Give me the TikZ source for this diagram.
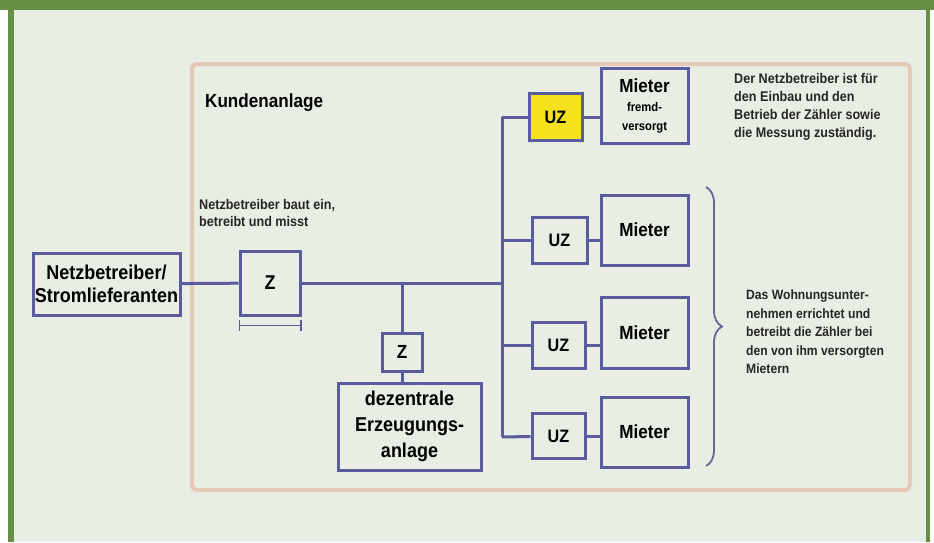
\documentclass[tikz,border=0pt]{standalone}
\usepackage{fontspec}
\setmainfont{Liberation Sans}[FakeStretch=0.9]
\usetikzlibrary{decorations.pathreplacing}
\definecolor{rahmen}{HTML}{668F45}
\definecolor{papier}{HTML}{E8EEE3}
\definecolor{linie}{HTML}{5A5C9E}
\definecolor{rose}{HTML}{E6C8B8}
\definecolor{gelb}{HTML}{F5E21C}
\newcommand{\fs}[2]{\fontsize{#1}{#2}\selectfont}

\begin{document}
\begin{tikzpicture}[x=1pt, y=-1pt,
    kasten/.style={draw=linie, line width=3pt, fill=papier, inner sep=0pt, align=center, font=\bfseries},
    leitung/.style={draw=linie, line width=3pt},
    notiz/.style={align=left, inner sep=0pt, font=\bfseries\fs{14}{18}, text=black!85}]
  % Rahmen und Hintergrund
  \fill[white] (0, 0) rectangle (934, 542);
  \fill[rahmen] (0, 0) rectangle (934, 10);
  \fill[rahmen] (8, 10) rectangle (14, 542);
  \fill[rahmen] (926, 10) rectangle (930, 542);
  \fill[papier] (14, 10) rectangle (926, 542);
  \useasboundingbox (0, 0) rectangle (934, 542);
  \draw[rose, line width=4pt, rounded corners=5pt] (192, 64) rectangle (910, 490);
  \node[anchor=west, inner sep=0pt, font=\bfseries\fs{19}{22}] (KA) at (205, 103) {Kundenanlage};

  \node[kasten, minimum width=147, minimum height=62, font=\bfseries\fs{20}{23}] (NB) at (106.5, 284) {Netzbetreiber/\\Stromlieferanten};
  \node[kasten, minimum width=60, minimum height=64, font=\bfseries\fs{20}{22}] (Z1) at (270, 283) {Z};
  \node[notiz, anchor=west, font=\bfseries\fs{14}{17}] (NBtext) at (199, 213) {Netzbetreiber baut ein,\\betreibt und misst};
  \draw[linie, line width=1.8pt, |-|] ([yshift=-9]Z1.south west) -- ([yshift=-9]Z1.south east);

  \coordinate (BO) at (502, 117);
  \coordinate (BM) at (502, 283);
  \coordinate (BU) at (502, 437);
  \coordinate (AB) at (402, 283);

  \node[kasten, minimum width=40, minimum height=38, font=\bfseries\fs{19}{20}] (Z2) at (402, 352) {Z};
  \node[kasten, minimum width=143, minimum height=87, font=\bfseries\fs{20}{26}] (DEZ) at (409.5, 426.5) {dezentrale\\Erzeugungs-\\anlage};

  \node[kasten, fill=gelb, minimum width=53, minimum height=47, font=\bfseries\fs{18}{20}] (UZ1) at (555.5, 117) {UZ};
  \node[kasten, minimum width=87, minimum height=75, font=\bfseries\fs{12.5}{19}] (M1) at (644.5, 105.5) {{\fs{19}{22}Mieter}\\fremd-\\versorgt};
  \node[kasten, minimum width=55, minimum height=46, font=\bfseries\fs{18}{20}] (UZ2) at (559.5, 240) {UZ};
  \node[kasten, minimum width=87, minimum height=70, font=\bfseries\fs{19}{22}] (M2) at (644.5, 230) {Mieter};
  \node[kasten, minimum width=53, minimum height=46, font=\bfseries\fs{18}{20}] (UZ3) at (558.5, 345) {UZ};
  \node[kasten, minimum width=87, minimum height=71, font=\bfseries\fs{19}{22}] (M3) at (644.5, 332.5) {Mieter};
  \node[kasten, minimum width=53, minimum height=45, font=\bfseries\fs{18}{20}] (UZ4) at (558.5, 436) {UZ};
  \node[kasten, minimum width=87, minimum height=70, font=\bfseries\fs{19}{22}] (M4) at (644.5, 432) {Mieter};

  \draw[leitung] (NB) -- (Z1);
  \draw[leitung] (Z1) -- (BM);
  \draw[leitung] (BO) -- (BU);
  \draw[leitung] (AB) -- (Z2);
  \draw[leitung] (Z2) -- (Z2 |- DEZ.north);
  \draw[leitung] (BO) -- (UZ1);
  \draw[leitung] (UZ2.west -| BO) -- (UZ2);
  \draw[leitung] (UZ3.west -| BO) -- (UZ3);
  \draw[leitung] (BU) -- (UZ4);
  \draw[leitung] (UZ1) -- (UZ1 -| M1.west);
  \draw[leitung] (UZ2) -- (UZ2 -| M2.west);
  \draw[leitung] (UZ3) -- (UZ3 -| M3.west);
  \draw[leitung] (UZ4) -- (UZ4 -| M4.west);

  \draw[linie!70!gray, line width=1.8pt, decorate, decoration={brace, amplitude=16pt}] (706, 187) -- (706, 466);

  \node[notiz, anchor=north west] (T1) at (734, 73) {Der Netzbetreiber ist für\\den Einbau und den\\Betrieb der Zähler sowie\\die Messung zuständig.};
  \node[notiz, anchor=west, font=\bfseries\fs{13.5}{18.5}] (T2) at (746, 332) {Das Wohnungsunter-\\nehmen errichtet und\\betreibt die Zähler bei\\den von ihm versorgten\\Mietern};
\end{tikzpicture}
\end{document}
